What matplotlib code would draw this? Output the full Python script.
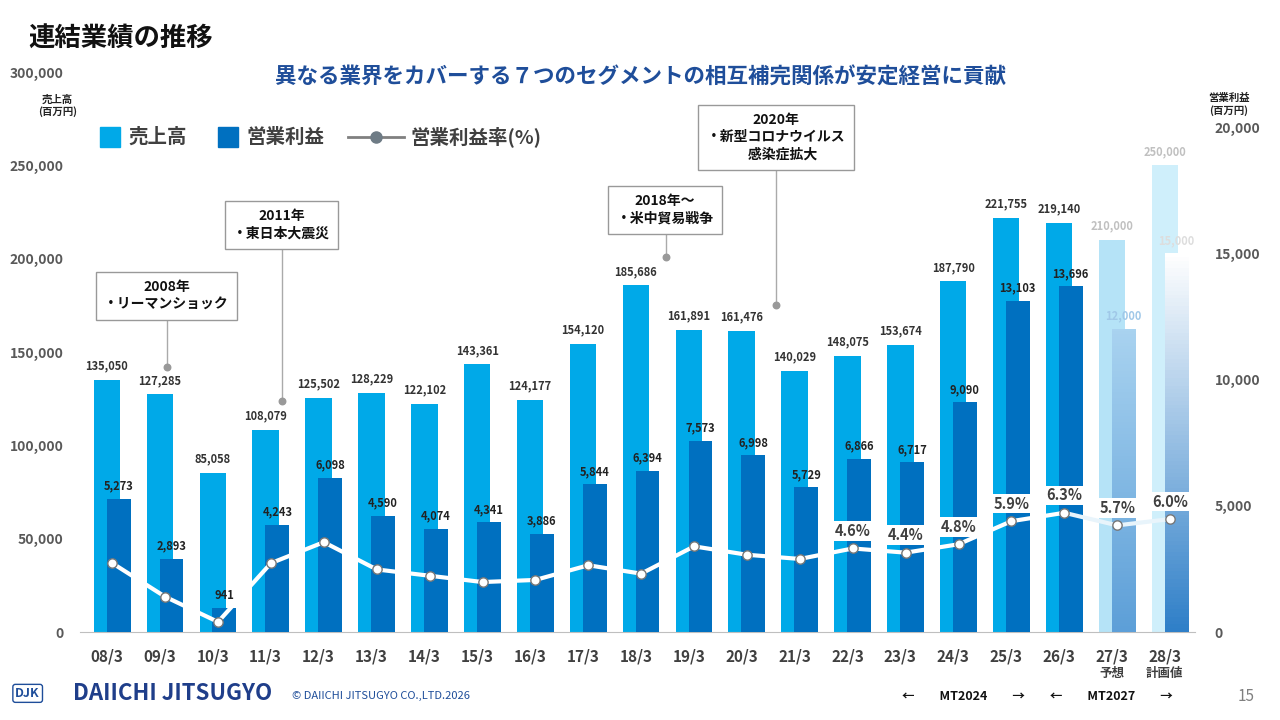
import numpy as np
import matplotlib.pyplot as plt
from matplotlib.colors import LinearSegmentedColormap

plt.rcParams['font.family'] = ['Noto Sans CJK JP', 'DejaVu Sans']
plt.rcParams['font.weight'] = 'bold'

years = ['08/3', '09/3', '10/3', '11/3', '12/3', '13/3', '14/3', '15/3', '16/3', '17/3',
         '18/3', '19/3', '20/3', '21/3', '22/3', '23/3', '24/3', '25/3', '26/3', '27/3', '28/3']
sales = [135050, 127285, 85058, 108079, 125502, 128229, 122102, 143361, 124177, 154120,
         185686, 161891, 161476, 140029, 148075, 153674, 187790, 221755, 219140, 210000, 250000]
op_income = [5273, 2893, 941, 4243, 6098, 4590, 4074, 4341, 3886, 5844,
             6394, 7573, 6998, 5729, 6866, 6717, 9090, 13103, 13696, 12000, 15000]
margin = [3.9, 2.3, 1.1, 3.9, 4.9, 3.6, 3.3, 3.0, 3.1, 3.8,
          3.4, 4.7, 4.3, 4.1, 4.6, 4.4, 4.8, 5.9, 6.3, 5.7, 6.0]
# (box x, box y, text, dot x, dot y)
events = [(1.13, 180000, '2008年\n・リーマンショック', 1.13, 142000),
          (3.3, 218000, '2011年\n・東日本大震災', 3.3, 124000),
          (10.55, 226000, '2018年～\n・米中貿易戦争', 10.57, 201000),
          (12.65, 265000, '2020年\n・新型コロナウイルス\n　感染症拡大', 12.65, 175000)]

x = np.arange(len(years))
n_act = 19
light = '#00A9E8'
dark = '#0070C0'

fig = plt.figure(figsize=(12.8, 7.2), dpi=100)
ax = fig.add_axes([80/1280, 1-632/720, 1115/1280, 560/720])
ax2 = ax.twinx()
ax3 = ax.twinx()
ax.set_xlim(-0.51, 20.57)
ax.set_ylim(0, 300000)
ax3.set_ylim(0.62, 27.3)
ax3.axis('off')

sc = [light] * n_act + ['#B5E3F7', '#CFEFFB']
ax.bar(x, sales, width=0.5, color=sc, zorder=1)
oc = [dark] * n_act + ['none', 'none']
obars = ax2.bar(x + 0.22, op_income, width=0.45, color=oc, zorder=2)

grads = [LinearSegmentedColormap.from_list('g1', ['#5D9FD8', '#A9D3F0']),
         LinearSegmentedColormap.from_list('g2', ['#2F7FC8', '#FFFFFF'])]
for b, cm in zip(list(obars)[n_act:], grads):
    x0, w, h = b.get_x(), b.get_width(), b.get_height()
    im = ax2.imshow(np.linspace(0, 1, 100).reshape(-1, 1), cmap=cm, aspect='auto',
                    origin='lower', extent=[x0, x0 + w, 0, h], zorder=2)
    im.set_clip_path(b)
ax2.set_xlim(-0.51, 20.57)
ax2.set_ylim(0, 22178)

for i in range(len(x)):
    c = '#C0C0C0' if i >= n_act else '#333333'
    ax.text(x[i], sales[i] + 4000, f'{sales[i]:,}', ha='center', va='bottom', fontsize=8, color=c)
    c2 = '#222222'
    if i == 19:
        c2 = '#A0C8E8'
    if i == 20:
        c2 = '#DDDDDD'
    ax2.text(x[i] + 0.22, op_income[i] + 250, f'{op_income[i]:,}', ha='center', va='bottom',
             fontsize=8, color=c2, zorder=5)

mx = x + 0.1
ax3.plot(mx[:n_act], margin[:n_act], color='white', lw=3, zorder=3)
ax3.plot(mx[n_act - 1:], margin[n_act - 1:], color='#E8F4FB', lw=3, zorder=3)
ax3.scatter(mx, margin, s=45, color='white', edgecolor='#777777', lw=1, zorder=4)
for i in range(14, len(x)):
    ax3.text(mx[i], margin[i] + 0.45, f'{margin[i]}%', ha='center', va='bottom', fontsize=10.5,
             color='#404040', zorder=6,
             bbox=dict(boxstyle='square,pad=0.12', fc='white', ec='none'))

for bx, by, txt, dx, dy in events:
    ax.plot([dx, dx], [dy, by], color='#AAAAAA', lw=1, zorder=4)
    ax.scatter([dx], [dy], s=22, color='#999999', zorder=5)
    ax.text(bx, by, txt, ha='center', va='center', fontsize=10, color='#111111', zorder=6,
            linespacing=1.3, bbox=dict(boxstyle='square,pad=0.6', fc='white', ec='#999999'))

for a in (ax, ax2):
    for s in a.spines.values():
        s.set_visible(False)
    a.tick_params(length=0, labelsize=10, colors='#595959')
ax.spines['bottom'].set_visible(True)
ax.spines['bottom'].set_color('#BFBFBF')
ax.set_xticks(x)
ax.set_xticklabels(years, fontsize=11, color='#404040')
ax.xaxis.set_tick_params(pad=12)
ax.set_yticks(range(0, 300001, 50000))
ax.set_yticklabels([f'{v:,}' for v in range(0, 300001, 50000)], color='#595959')
ax.yaxis.set_tick_params(pad=12)
ax2.set_yticks(range(0, 20001, 5000))
ax2.set_yticklabels([f'{v:,}' for v in range(0, 20001, 5000)], color='#595959')
ax2.yaxis.set_tick_params(pad=14)
ax.text(19, -18500, '予想', ha='center', va='top', fontsize=9, color='#404040')
ax.text(20, -18500, '計画値', ha='center', va='top', fontsize=9, color='#404040')

fig.text(0.022, 0.945, '連結業績の推移', fontsize=19, color='#111111', va='center')
fig.text(0.5, 0.893, '異なる業界をカバーする７つのセグメントの相互補完関係が安定経営に貢献',
         fontsize=15.5, color='#1F4E9A', ha='center', va='center')
fig.text(0.045, 0.853, '売上高\n(百万円)', fontsize=7.5, ha='center', va='center', color='#222222')
fig.text(0.96, 0.855, '営業利益\n(百万円)', fontsize=7.5, ha='center', va='center', color='#222222')

# legend
fig.patches.append(plt.Rectangle((100/1280, 1-147/720), 20/1280, 20/720, color=light, transform=fig.transFigure))
fig.text(128/1280, 1-137/720, '売上高', fontsize=14, va='center', color='#404040')
fig.patches.append(plt.Rectangle((218/1280, 1-147/720), 20/1280, 20/720, color=dark, transform=fig.transFigure))
fig.text(246/1280, 1-137/720, '営業利益', fontsize=14, va='center', color='#404040')
fig.lines.append(plt.Line2D([348/1280, 404/1280], [1-137/720] * 2, color='#808080', lw=2,
                            transform=fig.transFigure))
fig.lines.append(plt.Line2D([376/1280], [1-137/720], marker='o', ms=8, color='#6E7B85',
                            transform=fig.transFigure))
fig.text(410/1280, 1-137/720, '営業利益率(%)', fontsize=14, va='center', color='#404040')

# footer
fig.text(0.012, 0.037, 'DJK', fontsize=9, color='#1F4E9A', va='center',
         bbox=dict(boxstyle='round,pad=0.2', fc='white', ec='#1F4E9A'))
fig.text(0.057, 0.037, 'DAIICHI JITSUGYO', fontsize=16, color='#1F3E8A', va='center')
fig.text(0.228, 0.033, '© DAIICHI JITSUGYO CO.,LTD.2026', fontsize=8, color='#1F4E9A', va='center',
         fontweight='normal')
fig.text(0.705, 0.033, '←　　MT2024　　→　　←　　MT2027　　→', fontsize=9, color='#111111', va='center')
fig.text(0.98, 0.033, '15', fontsize=11, color='#808080', ha='right', va='center', fontweight='normal')

fig.savefig('out.png', dpi=100)
